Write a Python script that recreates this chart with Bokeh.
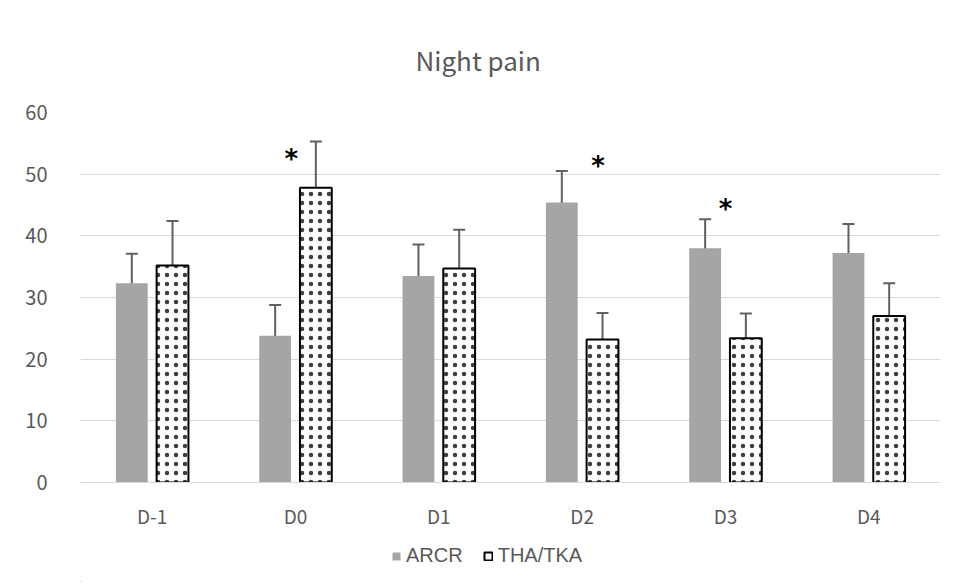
from bokeh.plotting import figure
from bokeh.layouts import column
from bokeh.models import (ColumnDataSource, Whisker, TeeHead, Legend,
                          LegendItem, FactorRange, Range1d, FixedTicker)
from bokeh.transform import dodge
from bokeh.core.properties import value
from bokeh.embed import file_html
from bokeh.resources import INLINE

# ---- data ----
days = ["D-1", "D0", "D1", "D2", "D3", "D4"]
arcr = [32.3, 23.8, 33.5, 45.4, 38.0, 37.2]
arcr_err = [4.8, 5.0, 5.1, 5.1, 4.7, 4.7]
tha = [35.2, 47.8, 34.7, 23.2, 23.4, 27.0]
tha_err = [7.2, 7.5, 6.3, 4.3, 4.0, 5.3]
series_names = ["ARCR", "THA/TKA"]
y_ticks = [0, 10, 20, 30, 40, 50, 60]
star_days = ["D0", "D2", "D3"]
star_offsets = [-0.03, 0.11, 0.0]
star_values = [53.0, 51.8, 44.8]

TXT = "#595959"
GRID = "#d9d9d9"
BAR_GRAY = "#a5a5a5"
ERR = "#616161"

src = ColumnDataSource(dict(
    day=days, arcr=arcr, tha=tha,
    arcr_hi=[v + e for v, e in zip(arcr, arcr_err)],
    arcr_lo=[v - e for v, e in zip(arcr, arcr_err)],
    tha_hi=[v + e for v, e in zip(tha, tha_err)],
    tha_lo=[v - e for v, e in zip(tha, tha_err)],
))

p = figure(frame_width=860, frame_height=370, x_range=FactorRange(*days),
           y_range=Range1d(0, 60), output_backend="svg",
           toolbar_location=None, min_border_left=80, min_border_right=8,
           min_border_top=112, min_border_bottom=45,
           title="Night pain")
p.outline_line_color = None
p.background_fill_color = "white"
p.border_fill_color = "white"

p.title.align = "left"
p.title.text_font = "Noto Sans CJK JP"
p.title.text_font_size = "26px"
p.title.text_font_style = "normal"
p.title.text_color = TXT
p.title.offset = 335
p.title.standoff = 70

OFF = 0.142
W = 0.222

bar_a = dict(fill_color=BAR_GRAY, line_color=None)
bar_t = dict(fill_color="white", line_color="black", line_width=2)

p.vbar(x=dodge("day", -OFF, range=p.x_range), top="arcr", width=W,
       source=src, **bar_a)
p.vbar(x=dodge("day", OFF, range=p.x_range), top="tha", width=W,
       source=src, hatch_pattern="dot", hatch_color="#404040",
       hatch_scale=9, hatch_weight=1, **bar_t)

for xo, hi, lo in [(-OFF, "arcr_hi", "arcr_lo"), (OFF, "tha_hi", "tha_lo")]:
    w = Whisker(base=dodge("day", xo, range=p.x_range), upper=hi, lower=lo,
                source=src, dimension="height", line_color=ERR, line_width=2,
                upper_head=TeeHead(size=12, line_color=ERR, line_width=2),
                lower_head=TeeHead(size=12, line_color=ERR, line_width=2))
    p.add_layout(w)

for d, o, v in zip(star_days, star_offsets, star_values):
    ssrc = ColumnDataSource(dict(x=[d], y=[v], t=["*"]))
    p.text(x=dodge("x", o, range=p.x_range), y="y", text="t", source=ssrc,
           text_font=value("DejaVu Sans"), text_font_size="26px",
           text_font_style="bold", text_color="black",
           text_align="center", text_baseline="middle", y_offset=3)

# axes
p.xaxis.axis_line_color = GRID
p.xaxis.major_tick_line_color = None
p.xaxis.minor_tick_line_color = None
p.xaxis.major_label_text_color = TXT
p.xaxis.major_label_text_font = "Noto Sans CJK JP"
p.xaxis.major_label_text_font_size = "19px"
p.xaxis.major_label_standoff = 13
p.xgrid.grid_line_color = None

p.yaxis.axis_line_color = None
p.yaxis.major_tick_line_color = None
p.yaxis.minor_tick_line_color = None
p.yaxis.ticker = FixedTicker(ticks=y_ticks)
p.yaxis.major_label_text_color = TXT
p.yaxis.major_label_text_font = "Noto Sans CJK JP"
p.yaxis.major_label_text_font_size = "20px"
p.yaxis.major_label_standoff = 27
p.ygrid.grid_line_color = GRID
p.ygrid.grid_line_width = 1

# legend strip below the chart (key glyphs kept outside the strip's range)
lg = figure(width=948, height=51, output_backend="svg", toolbar_location=None,
            x_range=Range1d(0, 1), y_range=Range1d(0, 1), min_border=0)
lg.axis.visible = False
lg.grid.visible = False
lg.outline_line_color = None
key_src = ColumnDataSource(dict(x=[-5], top=[-5]))
k1 = lg.vbar(x="x", top="top", width=0.1, source=key_src, **bar_a)
k2 = lg.vbar(x="x", top="top", width=0.1, source=key_src, **bar_t)
legend = Legend(items=[LegendItem(label=series_names[0], renderers=[k1]),
                       LegendItem(label=series_names[1], renderers=[k2])],
                orientation="horizontal", location=(311, 15),
                label_text_font="Liberation Sans", label_text_font_size="20px",
                label_text_color=TXT, glyph_width=10, glyph_height=10,
                label_standoff=5, spacing=20, border_line_color=None,
                background_fill_alpha=0, margin=0, padding=4)
lg.add_layout(legend)

layout = column(p, lg, spacing=0)
open("out.html", "w").write(file_html(layout, INLINE))
